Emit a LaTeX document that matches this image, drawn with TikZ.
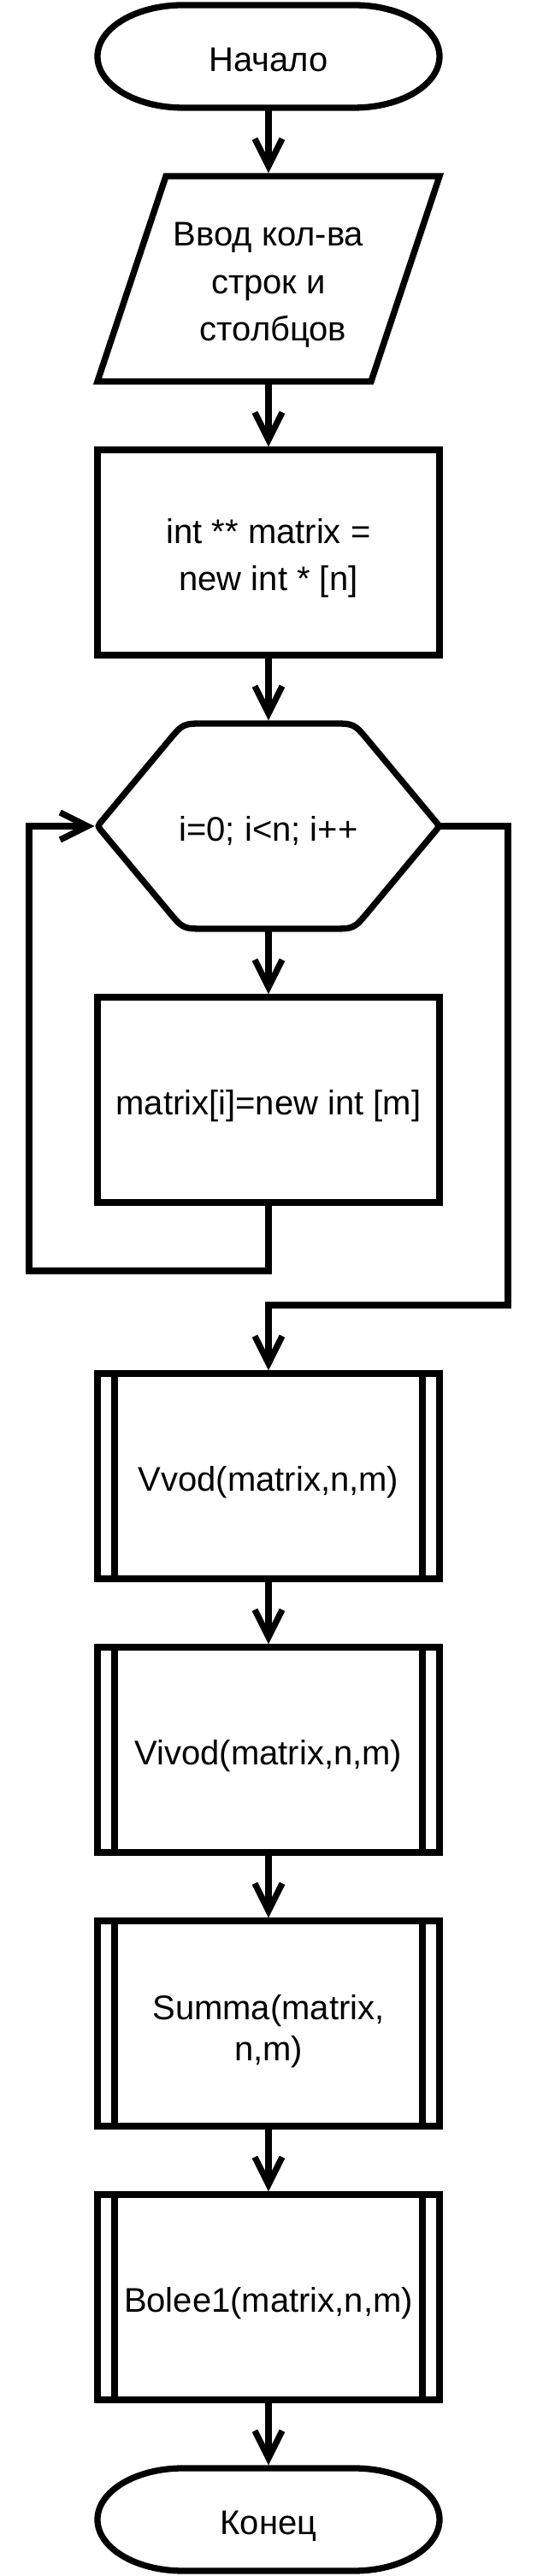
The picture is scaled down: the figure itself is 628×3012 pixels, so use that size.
\documentclass[tikz,border=0pt]{standalone}
\usepackage{fontspec}
\setmainfont{Liberation Sans}
\usetikzlibrary{arrows.meta,calc}
\newcommand\lbl[3]{\raisebox{0pt}[#1][#2]{\begin{tabular}[t]{@{}c@{}}#3\end{tabular}}}
\begin{document}
\begin{tikzpicture}[x=1pt,y=1pt,
  line width=7.3pt,
  every node/.style={inner sep=0pt, outer sep=0pt, font=\fontsize{40pt}{48pt}\selectfont},
  shapebox/.style={minimum width=400pt, minimum height=240pt},
  rectbox/.style={shapebox, draw},
  termbox/.style={minimum width=400pt, minimum height=120pt},
  flow/.style={-{Straight Barb[length=32pt,width=32pt,sharp]}, shorten >=3.6pt},
  ]
\useasboundingbox (0,0) rectangle (628,3012);
% start
\node[termbox] (start) at (314,2946) {\lbl{36pt}{0pt}{Начало}};
\draw ([xshift=-100pt]start.north) -- ([xshift=100pt]start.north)
  arc[start angle=90,end angle=-90,x radius=100pt,y radius=60pt]
  -- ([xshift=-100pt]start.south)
  arc[start angle=270,end angle=90,x radius=100pt,y radius=60pt] -- cycle;
% input
\node[shapebox, font=\fontsize{40pt}{55.5pt}\selectfont] (input) at (314,2686)
  {\lbl{0pt}{76pt}{Ввод кол-ва\\строк и\\\hspace*{11pt}столбцов}};
\draw (input.south west) -- ([xshift=-80pt]input.south east) -- (input.north east)
  -- ([xshift=80pt]input.north west) -- cycle;
% alloc
\node[rectbox, font=\fontsize{40pt}{55pt}\selectfont] (alloc) at (314,2366)
  {\lbl{0pt}{20pt}{int ** matrix =\\new int * [n]}};
% hexagon loop
\node[shapebox] (hex) at (314,2046) {\lbl{36pt}{0pt}{i=0; i<n; i++}};
\coordinate (h1) at ([xshift=-100pt]hex.north);
\coordinate (h2) at ([xshift=100pt]hex.north);
\coordinate (h4) at ([xshift=100pt]hex.south);
\coordinate (h5) at ([xshift=-100pt]hex.south);
\draw (hex.north) -- ($(h2)!26pt!(hex.north)$) .. controls (h2) .. ($(h2)!26pt!(hex.east)$)
  -- ($(hex.east)!8pt!(h2)$) .. controls (hex.east) .. ($(hex.east)!8pt!(h4)$)
  -- ($(h4)!26pt!(hex.east)$) .. controls (h4) .. ($(h4)!26pt!(h5)$)
  -- ($(h5)!26pt!(h4)$) .. controls (h5) .. ($(h5)!26pt!(hex.west)$)
  -- ($(hex.west)!8pt!(h5)$) .. controls (hex.west) .. ($(hex.west)!8pt!(h1)$)
  -- ($(h1)!26pt!(hex.west)$) .. controls (h1) .. ($(h1)!26pt!(h2)$) -- cycle;
% body
\node[rectbox] (body) at (314,1726) {\lbl{36pt}{0pt}{matrix[i]=new int [m]}};
% subroutines
\node[rectbox] (vvod) at (314,1286) {\lbl{36pt}{0pt}{Vvod(matrix,n,m)}};
\node[rectbox] (vivod) at (314,966) {\lbl{36pt}{0pt}{Vivod(matrix,n,m)}};
\node[rectbox] (summa) at (314,646) {\lbl{0pt}{8pt}{Summa(matrix,\\n,m)}};
\node[rectbox] (bolee) at (314,326) {\lbl{36pt}{0pt}{Bolee1(matrix,n,m)}};
\foreach \n in {vvod,vivod,summa,bolee}{
  \draw ([xshift=20pt]\n.north west) -- ([xshift=20pt]\n.south west);
  \draw ([xshift=-20pt]\n.north east) -- ([xshift=-20pt]\n.south east);
}
% end
\node[termbox] (end) at (314,66) {\lbl{36pt}{0pt}{Конец}};
\draw ([xshift=-100pt]end.north) -- ([xshift=100pt]end.north)
  arc[start angle=90,end angle=-90,x radius=100pt,y radius=60pt]
  -- ([xshift=-100pt]end.south)
  arc[start angle=270,end angle=90,x radius=100pt,y radius=60pt] -- cycle;
% connectors
\coordinate (lc) at (34,1526);
\coordinate (rc) at (594,1486);
\draw[flow] (start) -- (input);
\draw[flow] (input) -- (alloc);
\draw[flow] (alloc) -- (hex);
\draw[flow] (hex) -- (body);
\draw[flow] (body.south) |- (lc) |- (hex.west);
\draw[flow] (hex.east) -| (rc) -| (vvod.north);
\draw[flow] (vvod) -- (vivod);
\draw[flow] (vivod) -- (summa);
\draw[flow] (summa) -- (bolee);
\draw[flow] (bolee) -- (end);
\end{tikzpicture}
\end{document}
